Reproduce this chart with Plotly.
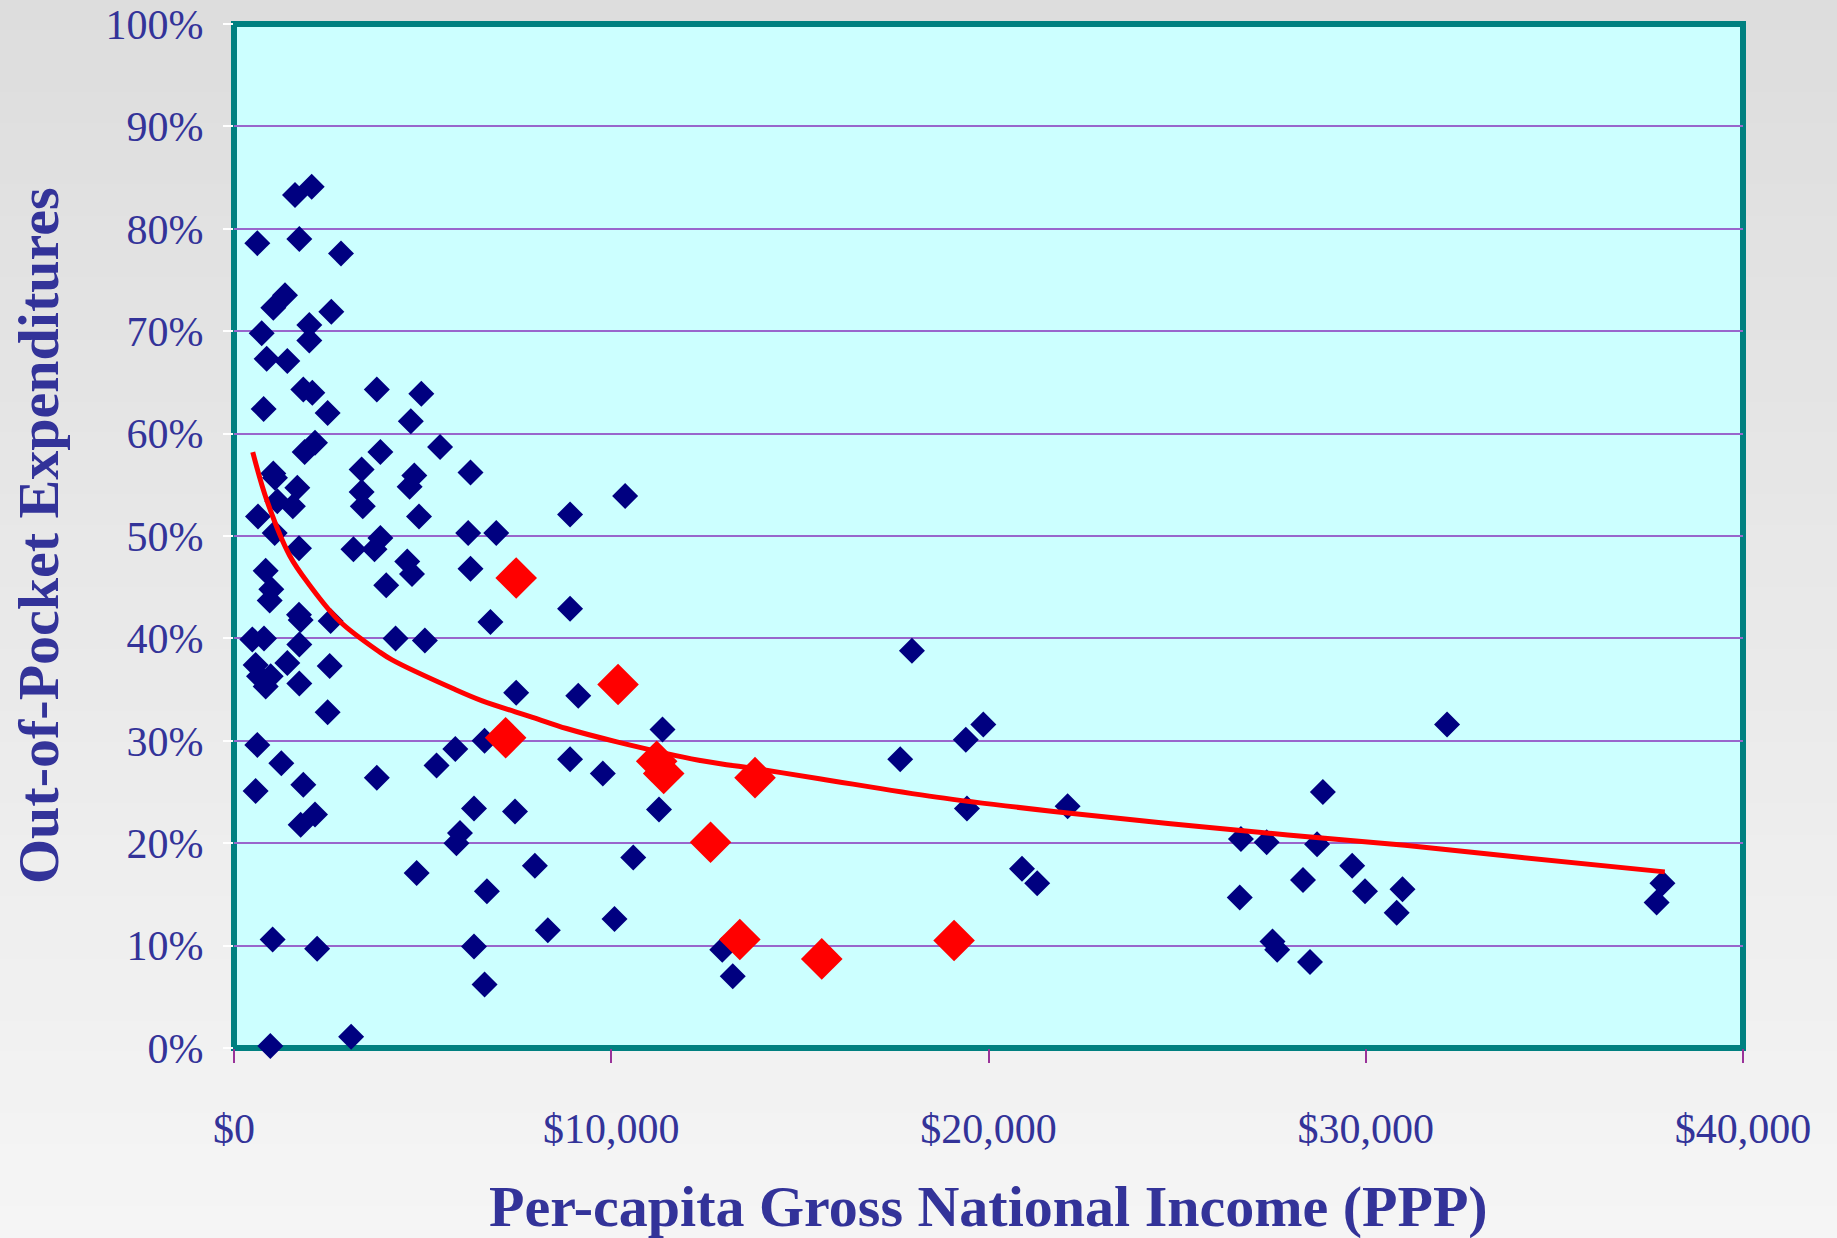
import plotly.graph_objects as go

# ---------------- data ----------------
# Countries: per-capita GNI (PPP, US$) and out-of-pocket share of health spending (%)
country_gni = [
    618, 1617, 2059, 1731, 2836, 1042, 1352, 2580, 734, 1997,
    1997, 866, 1414, 1838, 2076, 786, 2482, 1873, 2147, 1042,
    1086, 1678, 1148, 1560, 636, 1078, 1723, 840, 989, 946,
    1723, 1767, 2562, 486, 795, 1732, 574, 1414, 2536, 663,
    972, 840, 1732, 2482, 618, 1255, 1838, 574, 1767, 2147,
    1024, 2204, 962, 3104,
    3786, 4966, 4687, 5462, 3880, 3383, 6269, 4780, 4655, 3383,
    3414, 4904, 8908, 10367, 6207, 6952, 3880, 3166, 3724, 4593,
    6269, 4718, 4035, 8908, 6797, 4283, 5059, 7480, 9125, 11359,
    6642, 5866, 8908, 5369, 9777, 3786, 6362, 7449, 11266, 5990,
    5897, 10583, 7976, 4842, 6704, 10087, 8318, 6362, 6642, 12942,
    13221,
    17660, 17970, 19398, 19863, 19429, 20888, 21291, 22098, 26692, 26660,
    27374, 27529, 27653, 28336, 28522, 28709, 28864, 29640, 29981, 30820,
    30975, 32155, 37865, 37710,
]
country_oop = [
    78.6, 83.3, 84.1, 79.0, 77.6, 72.3, 73.5, 71.9, 69.8, 70.6,
    69.1, 67.3, 67.1, 64.3, 64.0, 62.4, 62.0, 58.2, 59.1, 56.1,
    55.7, 54.7, 53.4, 52.9, 51.9, 50.3, 48.8, 46.6, 44.8, 43.7,
    42.3, 41.8, 41.7, 39.9, 40.0, 39.4, 37.4, 37.6, 37.3, 36.3,
    36.3, 35.3, 35.6, 32.8, 29.6, 27.8, 25.7, 25.1, 21.8, 22.8,
    10.6, 9.7, 0.2, 1.1,
    64.3, 63.9, 61.2, 58.7, 58.2, 56.5, 56.2, 55.9, 54.8, 54.3,
    52.9, 51.9, 52.1, 53.9, 50.3, 50.3, 49.8, 48.7, 48.7, 47.5,
    46.8, 46.3, 45.2, 42.9, 41.6, 40.0, 39.8, 34.7, 34.4, 31.1,
    30.0, 29.2, 28.2, 27.6, 26.8, 26.4, 23.4, 23.1, 23.3, 21.0,
    20.0, 18.6, 17.8, 17.1, 15.3, 12.6, 11.5, 9.9, 6.2, 9.6,
    7.0,
    28.2, 38.8, 30.1, 31.6, 23.4, 17.5, 16.1, 23.6, 20.4, 14.7,
    20.1, 10.4, 9.6, 16.4, 8.4, 19.9, 25.0, 17.8, 15.3, 13.2,
    15.5, 31.6, 16.1, 14.2,
]

# Highlighted countries (red)
highlight_gni = [7480, 10180, 7200, 11204, 11390, 13811, 12632, 13408, 15580, 19088]
highlight_oop = [45.9, 35.5, 30.3, 28.0, 26.8, 26.4, 20.1, 10.6, 8.7, 10.5]

# Trend line
trend_gni = [497, 869, 1474, 2005, 2793, 3849, 4190, 5804, 6580, 7914,
             8814, 10149, 12322, 13967, 15518, 18622, 21726, 24829, 27933,
             31037, 34140, 37927]
trend_oop = [58.2, 53.5, 48.1, 45.2, 41.7, 38.7, 37.9, 35.1, 33.9, 32.3,
             31.2, 29.9, 28.1, 27.2, 26.3, 24.5, 23.1, 21.9, 20.8,
             19.8, 18.6, 17.2]

x_range = [0, 40000]
x_step = 10000
y_range = [0, 100]
y_step = 10

x_title = "Per-capita Gross National Income (PPP)"
y_title = "Out-of-Pocket Expenditures"

# ---------------- styling ----------------
W, H = 1837, 1238
ML, MR, MT, MB = 234, 94, 24, 190
PW, PH = W - ML - MR, H - MT - MB
FONT = "Liberation Serif"
TXT = "#333399"
NAVY = "#000080"
RED = "#FF0000"
TEAL = "#008080"
CYAN = "#CCFFFF"
GRID = "#9966CC"


def px_to_paper_y(py):
    return (H - MB - py) / PH


def px_to_paper_x(px):
    return (px - ML) / PW


fig = go.Figure()

fig.add_trace(go.Scatter(
    x=country_gni, y=country_oop, mode="markers",
    marker=dict(symbol="diamond", size=20, color=NAVY, line=dict(width=0)),
    cliponaxis=False, showlegend=False,
))
fig.add_trace(go.Scatter(
    x=highlight_gni, y=highlight_oop, mode="markers",
    marker=dict(symbol="diamond", size=32, color=RED, line=dict(width=0)),
    cliponaxis=False, showlegend=False,
))
fig.add_trace(go.Scatter(
    x=trend_gni, y=trend_oop, mode="lines",
    line=dict(color=RED, width=5, shape="spline", smoothing=1.0),
    showlegend=False,
))

# background gradient bands (page), then plot area fill + frame
shapes = []
n_bands = 40
top_c, bot_c = 221, 245
for i in range(n_bands):
    y_top = H * i / n_bands
    y_bot = H * (i + 1) / n_bands
    c = round(top_c + (bot_c - top_c) * (i + 0.5) / n_bands)
    shapes.append(dict(
        type="rect", xref="paper", yref="paper", layer="below",
        x0=px_to_paper_x(-5), x1=px_to_paper_x(W + 5),
        y0=px_to_paper_y(y_bot + (5 if i == n_bands - 1 else 0)),
        y1=px_to_paper_y(y_top - (5 if i == 0 else 0)) + 0.001,
        fillcolor=f"rgb({c},{c},{c})", line=dict(width=0),
    ))
shapes.append(dict(
    type="rect", xref="x domain", yref="y domain", layer="below",
    x0=0, x1=1, y0=0, y1=1, fillcolor=CYAN,
    line=dict(color=TEAL, width=6),
))

annotations = [
    dict(text=f"<b>{x_title}</b>", xref="paper", yref="paper",
         x=0.5, y=px_to_paper_y(1206), xanchor="center", yanchor="middle",
         showarrow=False, font=dict(family=FONT, size=58, color=TXT)),
    dict(text=f"<b>{y_title}</b>", xref="paper", yref="paper",
         x=px_to_paper_x(38), y=0.5, xanchor="center", yanchor="middle",
         textangle=-90, showarrow=False,
         font=dict(family=FONT, size=58, color=TXT)),
]

fig.update_layout(
    width=W, height=H,
    margin=dict(l=ML, r=MR, t=MT, b=MB, pad=0, autoexpand=False),
    paper_bgcolor="#DDDDDD",
    plot_bgcolor="rgba(0,0,0,0)",
    shapes=shapes,
    annotations=annotations,
    showlegend=False,
    xaxis=dict(
        range=x_range, tickmode="linear", tick0=0, dtick=x_step,
        tickprefix="$", tickformat=",d", automargin=False,
        showgrid=False, zeroline=False, showline=False,
        ticks="outside", ticklen=14, tickwidth=1.5, tickcolor="#993399",
        tickfont=dict(family=FONT, size=42, color=TXT),
        ticklabelstandoff=30,
    ),
    yaxis=dict(
        range=y_range, tickmode="linear", tick0=0, dtick=y_step,
        ticksuffix="%", automargin=False,
        showgrid=True, gridcolor=GRID, gridwidth=1.5,
        zeroline=False, showline=False,
        ticks="outside", ticklen=10, tickwidth=2, tickcolor="white",
        tickfont=dict(family=FONT, size=42, color=TXT),
        ticklabelstandoff=11,
    ),
)

fig.write_html(
    "out.html",
    config={"displayModeBar": False},
    post_script="document.body.style.margin='0px';document.body.style.overflow='hidden';",
)
